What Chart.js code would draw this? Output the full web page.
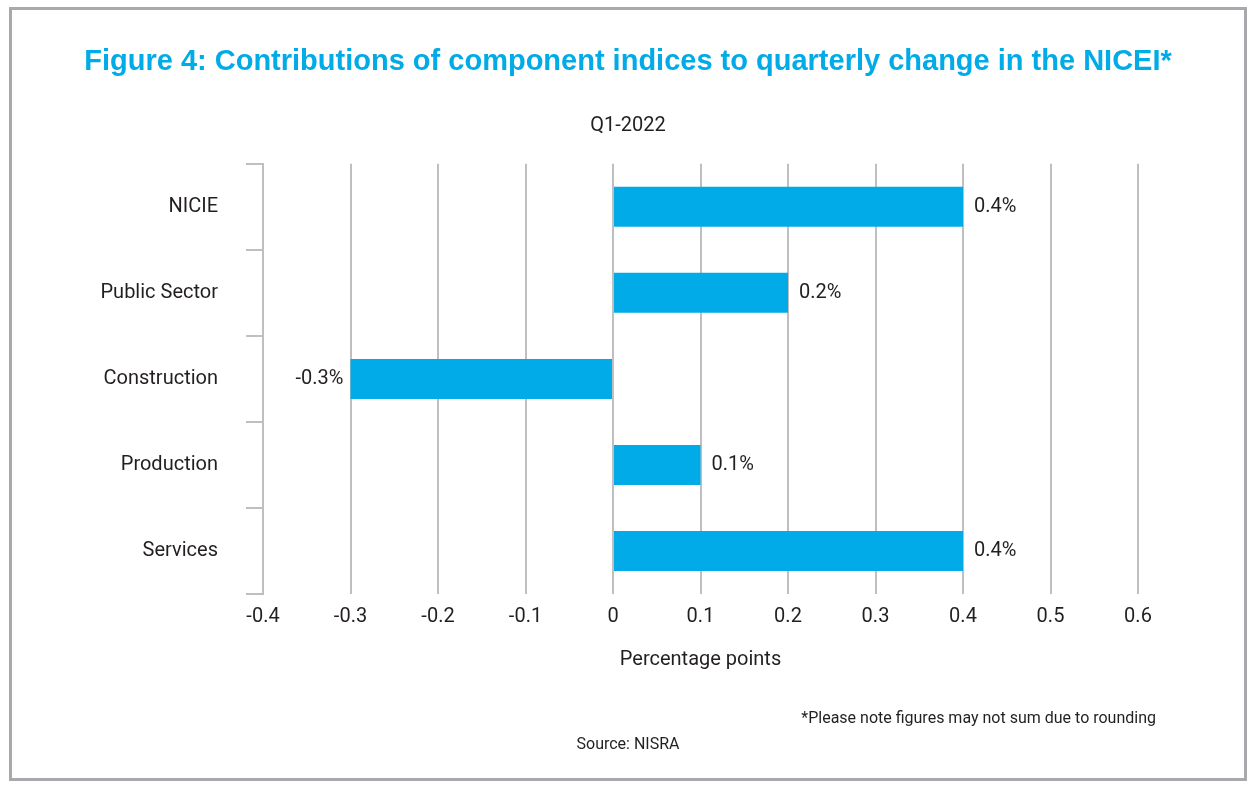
<!DOCTYPE html>
<html>
<head>
<meta charset="utf-8">
<script src="https://cdn.jsdelivr.net/npm/chart.js@4/dist/chart.umd.min.js"></script>
<style>
  html, body { margin: 0; padding: 0; background: #fff; }
  .chart-wrap { width: 1256px; height: 790px; }
</style>
</head>
<body>
<div class="chart-wrap">
  <canvas id="chart" width="1256" height="790"></canvas>
</div>
<script>
const categories = ['NICIE', 'Public Sector', 'Construction', 'Production', 'Services'];
const contributions = [0.4, 0.2, -0.3, 0.1, 0.4];
const titleText = 'Figure 4: Contributions of component indices to quarterly change in the NICEI*';
const periodText = 'Q1-2022';
const axisTitle = 'Percentage points';
const footnote = '*Please note figures may not sum due to rounding';
const sourceText = 'Source: NISRA';

const BLUE = '#00abe7';
const GRID = '#bfbfc2';
const TEXT = '#231f20';
const FONT = 'Roboto, "Liberation Sans", sans-serif';

Chart.defaults.font.family = FONT;
Chart.defaults.color = TEXT;

// frame, footnotes and value labels
const extras = {
  id: 'extras',
  beforeDraw: chart => {
    const ctx = chart.ctx;
    ctx.save();
    ctx.strokeStyle = '#a8a9ac';
    ctx.lineWidth = 3;
    ctx.strokeRect(10.5, 8.5, 1235, 771);
    ctx.restore();
  },
  afterDatasetsDraw: chart => {
    const ctx = chart.ctx;
    const meta = chart.getDatasetMeta(0);
    ctx.save();
    ctx.font = `20px ${FONT}`;
    ctx.fillStyle = TEXT;
    ctx.textBaseline = 'middle';
    meta.data.forEach((bar, i) => {
      const v = contributions[i];
      const label = v.toFixed(1) + '%';
      if (v >= 0) {
        ctx.textAlign = 'left';
        ctx.fillText(label, bar.x + 11, bar.y);
      } else {
        ctx.textAlign = 'right';
        ctx.fillText(label, bar.x - 7, bar.y);
      }
    });

    ctx.font = `16px ${FONT}`;
    ctx.textAlign = 'right';
    ctx.fillText(footnote, 1156, 719);
    ctx.textAlign = 'center';
    ctx.fillText(sourceText, 628, 745);
    ctx.restore();
  }
};

new Chart(document.getElementById('chart'), {
  type: 'bar',
  data: {
    labels: categories,
    datasets: [{
      data: contributions,
      backgroundColor: BLUE,
      barPercentage: 0.465,
      categoryPercentage: 1
    }]
  },
  options: {
    indexAxis: 'y',
    responsive: false,
    animation: false,
    layout: { padding: { left: 20, right: 20, top: 22, bottom: 0 } },
    plugins: {
      legend: { display: false },
      tooltip: { enabled: false },
      title: {
        display: true,
        text: titleText,
        color: BLUE,
        font: { family: '"Liberation Sans", Arial, sans-serif', size: 29, weight: 'bold' },
        padding: { top: 23, bottom: 0 }
      },
      subtitle: {
        display: true,
        text: periodText,
        color: TEXT,
        font: { size: 20 },
        padding: { top: 34, bottom: 26 }
      }
    },
    scales: {
      x: {
        min: -0.4,
        max: 0.6,
        afterFit: scale => {
          scale.height = 196;
          scale.paddingRight = 118;  // keep the plot clear of the right edge
        },
        ticks: {
          stepSize: 0.1,
          padding: 11,
          font: { size: 20 },
          callback: v => Math.abs(v) < 1e-9 ? '0' : v.toFixed(1)
        },
        grid: { color: GRID, lineWidth: 2, drawTicks: false },
        border: { display: false },
        title: {
          display: true,
          text: axisTitle,
          font: { size: 20 },
          padding: { top: 0, bottom: 118 }
        }
      },
      y: {
        afterFit: scale => { scale.width = 243; },
        ticks: { padding: 28, font: { size: 20 } },
        grid: { color: GRID, lineWidth: 2, drawOnChartArea: false, drawTicks: true, tickLength: 17 },
        border: { display: true, color: GRID, width: 2 }
      }
    }
  },
  plugins: [extras]
});
</script>
</body>
</html>
